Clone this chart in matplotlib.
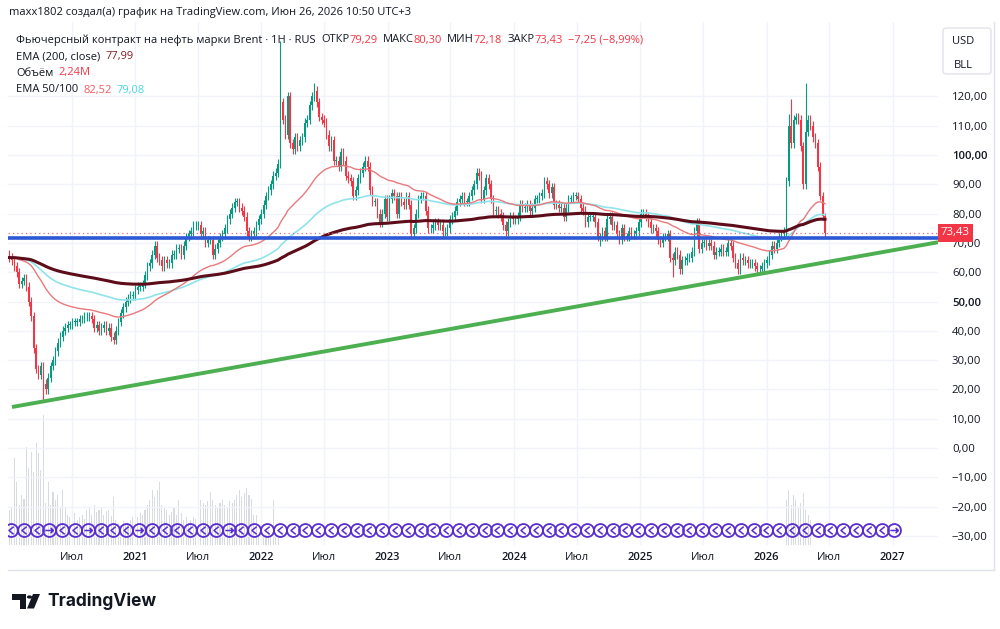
import numpy as np
import pandas as pd
import matplotlib
matplotlib.use("Agg")
import matplotlib.pyplot as plt
import matplotlib.transforms as mtransforms
from matplotlib.path import Path
from matplotlib.patches import Polygon, Circle, FancyBboxPatch

plt.rcParams['font.family'] = ['Open Sans', 'DejaVu Sans']

W, H = 1000, 629

# weekly closes (Jan 2020 .. Jun 2026)
c2020 = [65, 64, 62, 60, 56, 57, 58, 55, 50, 45, 34, 27, 25, 28, 22, 20, 24, 28,
         30, 33, 36, 38, 40, 41, 42, 42, 43, 43, 43, 44, 44, 45, 45, 45, 44,
         41, 42, 40, 41, 42, 40, 41, 38, 37, 40, 43, 46, 48, 50, 51, 52, 52]
c2021 = [54, 55, 55, 56, 59, 62, 63, 66, 69, 65, 64, 62, 64, 63, 63, 66, 66,
         68, 68, 66, 69, 72, 73, 74, 76, 76, 76, 73, 74, 70, 71, 71, 66, 68, 70,
         72, 73, 75, 78, 80, 82, 84, 84, 82, 81, 79, 74, 72, 73, 74, 76, 78]
c2022 = [80, 83, 86, 88, 90, 93, 94, 97, 118, 112, 107, 120, 104, 102, 106, 103, 105,
         106, 111, 112, 117, 120, 122, 118, 113, 112, 111, 107, 103, 105,
         98, 98, 96, 101, 98, 93, 92, 91, 86, 88, 92, 94, 96, 98, 96, 88, 84,
         84, 80, 77, 80, 85]
c2023 = [79, 85, 87, 86, 80, 86, 84, 83, 86, 83, 73, 75, 80, 85, 86, 86, 81,
         75, 75, 76, 77, 76, 76, 74, 74, 75, 78, 79, 81, 84, 85, 86, 84, 84, 86,
         88, 90, 94, 93, 85, 88, 92, 90, 85, 81, 81, 80, 79, 76, 74, 77, 79]
c2024 = [78, 78, 79, 83, 82, 82, 83, 81, 82, 85, 85, 86, 87, 91, 90, 87, 89,
         83, 83, 82, 82, 79, 82, 85, 85, 86, 86, 85, 82, 81, 77, 79, 79, 79, 77,
         72, 72, 74, 72, 78, 79, 76, 76, 73, 71, 75, 72, 72, 74, 73, 73, 74]
c2025 = [77, 80, 80, 79, 77, 75, 75, 74, 71, 70, 72, 72, 73, 65, 64, 67, 66,
         61, 64, 64, 65, 65, 67, 74, 77, 68, 70, 70, 69, 70, 69, 66, 67, 67, 68,
         67, 67, 70, 69, 65, 63, 61, 65, 64, 64, 63, 63, 63, 62, 61, 61, 62]
c2026 = [63, 64, 66, 69, 68, 70, 72, 73, 74, 91, 110, 104, 112,
         113, 112, 103, 90, 108, 112, 110, 106, 104, 96, 86, 79.3, 73.43]
first_open = 66.0
last_open, last_high, last_low = 79.29, 80.30, 72.18

# wicks that stand out (week index: high / low)
highs_override = {112: 139.0, 126: 124.5, 322: 114.0, 323: 119.0, 329: 124.6}
lows_override = {14: 16.0, 166: 71.5, 179: 72.0, 244: 69.0, 274: 58.5, 310: 59.5}
wick = 1.5

# volume (M), 2020-2022 and the 2026 spike
vol_early = [3.5, 3.8, 8.7, 6.3, 4.0, 5.0, 4.6, 9.8, 7.7, 9.3,
             7.3, 10.2, 9.2, 7.5, 13.0, 4.2, 6.3, 4.0, 5.3, 4.5,
             5.0, 3.8, 5.5, 3.7, 3.0, 2.8, 3.0, 3.2, 2.5, 2.8,
             3.0, 2.6, 3.5, 3.8, 3.0, 4.0, 3.3, 3.5, 3.8, 3.0,
             3.4, 3.5, 2.9, 4.8, 2.5, 2.2, 2.0, 2.4, 2.0, 2.2,
             2.5, 2.8, 3.0, 2.8, 3.2, 3.0, 3.5, 4.0, 4.5, 5.5,
             4.8, 5.5, 6.3, 4.0, 3.8, 3.5, 3.0, 3.3, 3.8, 3.0,
             4.5, 3.2, 2.5, 2.8, 2.2, 2.5, 2.8, 2.6, 4.0, 4.5,
             4.2, 4.0, 4.4, 5.3, 4.5, 4.0, 3.8, 4.2, 4.5, 4.0,
             3.8, 4.4, 4.2, 4.5, 5.0, 5.5, 4.8, 5.2, 5.7, 5.0,
             4.6, 3.0, 3.0, 1.0, 1.2, 0.8, 1.0, 1.5, 0.8, 4.5,
             1.0, 0.8]
vol_2026_start = 321
vol_2026 = [4.5, 5.5, 4.0, 5.0, 4.5, 3.8, 4.2, 5.2, 3.5, 3.0, 2.5]

trend_weeks = [14, 310]
trend_vals = [15.9, 59.4]
hline_level = 71.8

ticks = [('2020-07-01', 'Июл'), ('2021-01-01', '2021'), ('2021-07-01', 'Июл'),
         ('2022-01-01', '2022'), ('2022-07-01', 'Июл'), ('2023-01-01', '2023'),
         ('2023-07-01', 'Июл'), ('2024-01-01', '2024'), ('2024-07-01', 'Июл'),
         ('2025-01-01', '2025'), ('2025-07-01', 'Июл'), ('2026-01-01', '2026'),
         ('2026-07-01', 'Июл'), ('2027-01-01', '2027')]
price_ticks = list(range(-30, 130, 10))

UP, DOWN = '#089981', '#f23645'
DARK = '#131722'

# ---- series
closes = np.array(c2020 + c2021 + c2022 + c2023 + c2024 + c2025 + c2026, dtype=float)
n = len(closes)
dates = pd.date_range('2020-01-03', periods=n, freq='W-FRI')
x = np.arange(n)
opens = np.r_[first_open, closes[:-1]]
opens[-1] = last_open
highs = np.maximum(opens, closes) + wick
lows = np.minimum(opens, closes) - wick
for k, v in highs_override.items():
    highs[k] = v
for k, v in lows_override.items():
    lows[k] = v
highs[-1], lows[-1] = last_high, last_low

s = pd.Series(closes)
ema200 = s.ewm(span=200, adjust=False).mean()
ema50 = s.ewm(span=50, adjust=False).mean()
ema100 = s.ewm(span=100, adjust=False).mean()

volume = np.zeros(n)
volume[:len(vol_early)] = vol_early
volume[vol_2026_start:vol_2026_start + len(vol_2026)] = vol_2026

# ---- figure
fig = plt.figure(figsize=(W / 100, H / 100), dpi=100)
rect = [8 / W, 1 - 545 / H, 930 / W, 523 / H]
xlim = (-0.6, 383.7)
ylim = (-33.1, 145.4)

axv = fig.add_axes(rect)
axv.set_xlim(*xlim)
axv.set_ylim(0, 52.3)
axv.axis('off')
axv.bar(x, volume, width=0.45, color='#cfd2d9', alpha=0.8, linewidth=0)

ax = fig.add_axes(rect)
ax.patch.set_visible(False)
ax.set_xlim(*xlim)
ax.set_ylim(*ylim)
for sp in ax.spines.values():
    sp.set_visible(False)

tick_pos = [(pd.Timestamp(d) - dates[0]).days / 7 for d, _ in ticks]
for p in tick_pos:
    ax.axvline(p, color='#f0f3fa', lw=1, zorder=0)
for v in price_ticks:
    ax.axhline(v, color='#f0f3fa', lw=1, zorder=0)

# candles
colors = np.where(closes >= opens, UP, DOWN)
ax.vlines(x, lows, highs, colors=colors, lw=0.8, zorder=2)
body_lo = np.minimum(opens, closes)
body_h = np.maximum(np.abs(closes - opens), 0.2)
ax.bar(x, body_h, bottom=body_lo, width=0.62, color=colors, linewidth=0, zorder=2)

# EMAs
ax.plot(x, ema100, color='#8fe3ec', lw=1.2, zorder=3)
ax.plot(x, ema50, color='#e8797d', lw=1.0, zorder=3)
ax.plot(x, ema200, color='#5c0d19', lw=2.2, zorder=3)

# horizontal level, price line, trend
ax.axhline(hline_level, color='#2d58d6', lw=2.6, zorder=4)
ax.axhline(closes[-1], color='#e06b73', lw=0.9, ls=(0, (1, 2.5)), zorder=3)
slope = (trend_vals[1] - trend_vals[0]) / (trend_weeks[1] - trend_weeks[0])
tx = np.array([1.05, xlim[1]])
ax.plot(tx, trend_vals[0] + slope * (tx - trend_weeks[0]), color='#4caf50', lw=2.8,
        solid_capstyle='butt', zorder=4)

# roll markers row
purple = '#5a2dd0'
roll_x = 0.64 + 5.29 * np.arange(70)
roll_y = -28.0
arrow_idx = [3, 6, 10, 17, 69]
chev = Path([(0.35, 0.6), (-0.4, 0.0), (0.35, -0.6)], [Path.MOVETO, Path.LINETO, Path.LINETO])
arr = Path([(-0.55, 0), (0.5, 0), (0.15, 0.35), (0.5, 0), (0.15, -0.35)],
           [Path.MOVETO, Path.LINETO, Path.MOVETO, Path.LINETO, Path.LINETO])
ax.plot(roll_x, np.full(70, roll_y), 'o', ms=9.3, mfc='none', mec=purple, mew=1.3, zorder=5)
chev_x = np.array([r for k, r in enumerate(roll_x) if k not in arrow_idx])
ax.plot(chev_x, np.full(len(chev_x), roll_y), marker=chev, ls='none', ms=5.5,
        mfc='none', mec=purple, mew=1.1, zorder=5)
ax.plot(roll_x[arrow_idx], np.full(len(arrow_idx), roll_y), marker=arr, ls='none', ms=6,
        mfc='none', mec=purple, mew=1.1, zorder=5)

# axes labels
ax.set_xticks([])
ax.yaxis.tick_right()
ax.set_yticks(price_ticks)
ax.set_yticklabels([f"{v},00".replace('-', '−') for v in price_ticks])
ax.tick_params(axis='y', length=0, pad=10, labelsize=8.2, labelcolor=DARK)
for lab in ax.get_yticklabels():
    if lab.get_text() in ('100,00', '50,00'):
        lab.set_fontweight('semibold')
blend = mtransforms.blended_transform_factory(ax.transData, ax.transAxes)
for p, (_, lab) in zip(tick_pos, ticks):
    ax.text(p, -12 / 523, lab, transform=blend, ha='center', va='center', fontsize=8,
            color=DARK, fontweight='semibold' if lab != 'Июл' else 'normal')

# last price tag
yblend = mtransforms.blended_transform_factory(ax.transAxes, ax.transData)
ax.text(1.003, closes[-1], f"{closes[-1]:.2f}".replace('.', ','), transform=yblend,
        ha='left', va='center', fontsize=8.2, color='white', zorder=10, clip_on=False,
        bbox=dict(boxstyle='square,pad=0.28', fc='#f23645', ec='none'))


def fx(px):
    return px / W


def fy(py):
    return 1 - py / H


# frame
fig.add_artist(plt.Line2D([fx(8), fx(994)], [fy(570), fy(570)], color='#e0e3eb', lw=1))
fig.add_artist(plt.Line2D([fx(994), fx(994)], [fy(22), fy(570)], color='#e0e3eb', lw=1))

# USD / BLL box
fig.add_artist(FancyBboxPatch((fx(943), fy(74)), 48 / W, 46 / H,
                              boxstyle='round,pad=0,rounding_size=0.004',
                              fc='white', ec='#e0e3eb', lw=1, transform=fig.transFigure))
fig.text(fx(963), fy(42), 'USD', ha='center', va='center', fontsize=8, color=DARK)
fig.text(fx(963), fy(65), 'BLL', ha='center', va='center', fontsize=8, color=DARK)

# header lines
renderer = fig.canvas.get_renderer()


def segments(x0, y0, parts, size=8.0):
    xp = x0
    for txt, col, gap in parts:
        t = fig.text(fx(xp), fy(y0), txt, ha='left', va='center', fontsize=size, color=col)
        xp += t.get_window_extent(renderer=renderer).width + gap


RED = '#f23645'
segments(9, 12, [('maxx1802 создал(а) график на TradingView.com, Июн 26, 2026 10:50 UTC+3', DARK, 0)])
segments(16, 40, [('Фьючерсный контракт на нефть марки Brent · 1H · RUS', DARK, 6),
                  ('ОТКР', DARK, 0), ('79,29', RED, 5), ('МАКС', DARK, 0), ('80,30', RED, 5),
                  ('МИН', DARK, 0), ('72,18', RED, 5), ('ЗАКР', DARK, 0), ('73,43', RED, 5),
                  ('−7,25 (−8,99%)', RED, 0)])
segments(16, 57, [('EMA (200, close)', DARK, 5), ('77,99', '#801d26', 0)])
segments(16, 73, [('Объём', DARK, 5), ('2,24M', RED, 0)])
segments(16, 90, [('EMA 50/100', DARK, 5), ('82,52', '#ef5a62', 5), ('79,08', '#4dd6e6', 0)])

# TradingView logo
logo = '#131722'
fig.add_artist(Polygon([(fx(12), fy(594)), (fx(26), fy(594)), (fx(26), fy(608.5)),
                        (fx(20), fy(608.5)), (fx(20), fy(600)), (fx(12), fy(600))],
                       closed=True, fc=logo, ec='none', transform=fig.transFigure))
fig.add_artist(Polygon([(fx(33), fy(594)), (fx(40), fy(594)), (fx(34), fy(608.5)),
                        (fx(27), fy(608.5))], closed=True, fc=logo, ec='none',
                       transform=fig.transFigure))
fig.add_artist(Circle((fx(29.5), fy(597)), 2.6 / W, fc=logo, ec='none',
                      transform=fig.transFigure))
fig.text(fx(47), fy(601), 'TradingView', ha='left', va='center', fontsize=12.5,
         fontweight='bold', color=logo, family=['Inter', 'DejaVu Sans'])

fig.savefig('out.png', dpi=100)
